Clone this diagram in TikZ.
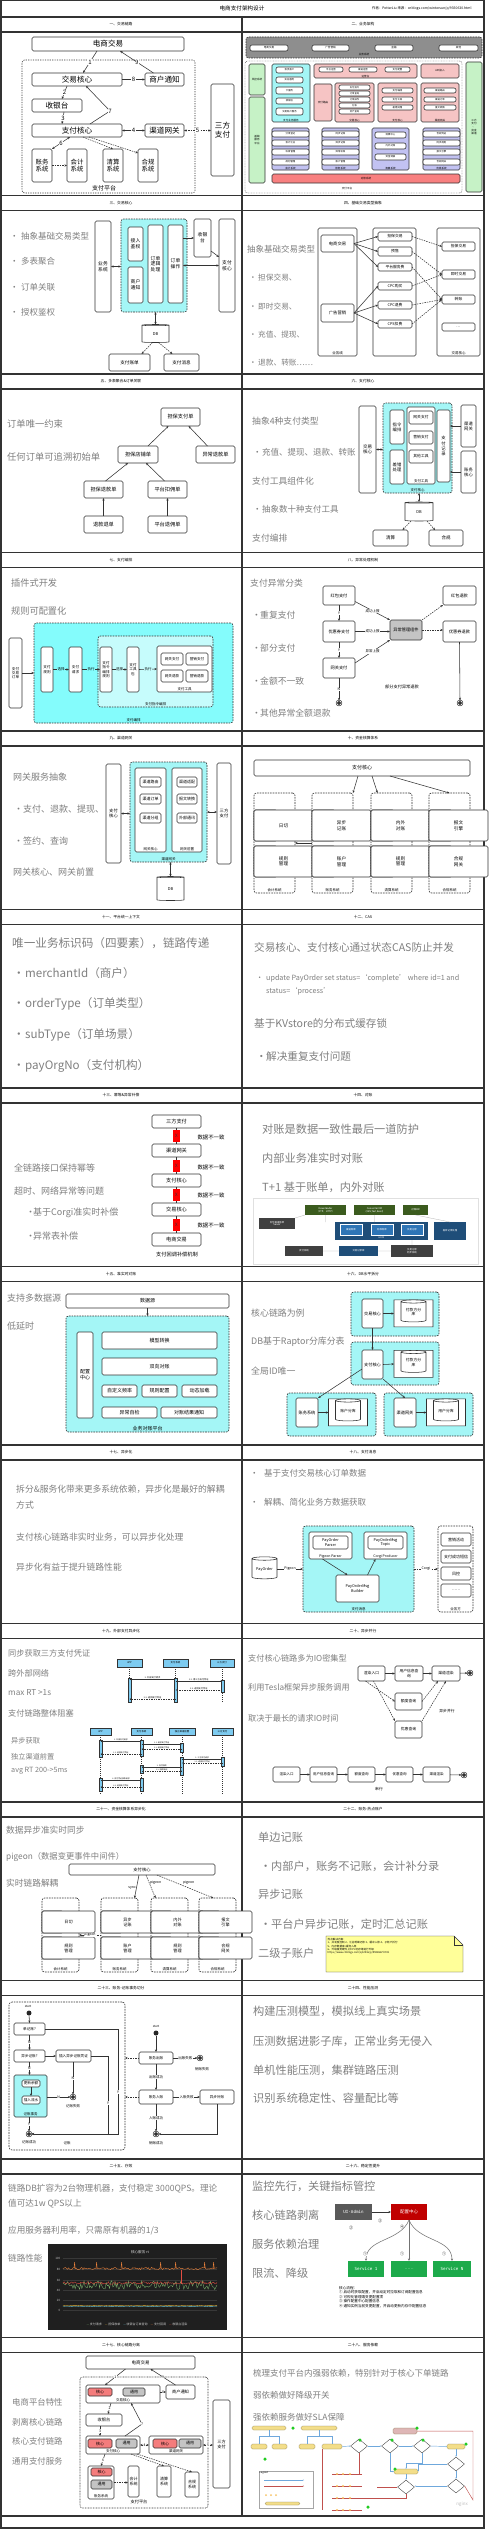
\documentclass[tikz,border=0pt]{standalone}
\usepackage{fontspec}
\setmainfont{Noto Sans CJK SC}
\newfontfamily\mono{DejaVu Sans Mono}
\usetikzlibrary{arrows.meta,positioning,shapes.geometric,calc}
\definecolor{lineg}{HTML}{333333}
\definecolor{txtg}{HTML}{7F7F7F}
\definecolor{cyanf}{HTML}{A4F6F6}
\definecolor{cyanb}{HTML}{84FCFC}
\definecolor{cyanl}{HTML}{C6FCFC}
\definecolor{pinkf}{HTML}{F6C4C4}
\definecolor{purpf}{HTML}{C2C2F2}
\definecolor{greenf}{HTML}{C6F2C6}
\definecolor{redbar}{HTML}{F88080}
\definecolor{darkgr}{HTML}{8E8E8E}
\definecolor{corer}{HTML}{F47C7C}
\definecolor{comg}{HTML}{C4C4C4}
\definecolor{seqb}{HTML}{7DCBF0}
\definecolor{notey}{HTML}{FFFF99}
\definecolor{olivd}{HTML}{3B5B1E}
\definecolor{hdfsb}{HTML}{1F4E79}
\definecolor{hdfsl}{HTML}{2E75B6}
\definecolor{chartbg}{HTML}{1F1F1F}
\definecolor{gfgreen}{HTML}{7EB26D}
\definecolor{gfyel}{HTML}{EAB839}
\definecolor{gfcyan}{HTML}{6ED0E0}
\definecolor{gforange}{HTML}{EF843C}
\definecolor{gfred}{HTML}{E24D42}
\definecolor{cfgred}{HTML}{C00000}
\definecolor{svcg}{HTML}{1DAA4B}
\definecolor{uig}{HTML}{595959}
\definecolor{flowy}{HTML}{F3DE8A}
\definecolor{flowb}{HTML}{6FA8DC}
\definecolor{flowr}{HTML}{C0504D}
\definecolor{flowgn}{HTML}{22CC22}

\newcommand\fsz[1]{\fontsize{#1}{\fpeval{1.2*#1}}\selectfont}
\newcommand\bul[1]{\makebox[#1pt][l]{·}}
% box from its corners: [style]{name}{x1}{y1}{x2}{y2}{text}
\newcommand\bx[7][]{%
  \pgfmathsetmacro\bxw{#5-#3}\pgfmathsetmacro\bxh{#6-#4}%
  \node[box,minimum width=\bxw pt,minimum height=\bxh pt,#1] (#2) at ({(#3+#5)/2},{(#4+#6)/2}) {#7};}

\begin{document}
\begin{tikzpicture}[x=1pt, y=-1pt,
  frame/.style={draw=lineg, line width=1.1pt},
  ttl/.style={font=\fsz{3.8}, inner sep=0},
  box/.style={draw=lineg, line width=0.6pt, rounded corners=1.5pt, fill=white, align=center,
    inner sep=0.3pt, outer sep=0pt, font=\fsz{4}},
  grp/.style={box, dash pattern=on 1.6pt off 1pt, rounded corners=2.5pt},
  lbl/.style={font=\fsz{3.5}, inner sep=0.4pt, align=center},
  inlbl/.style={label={[lbl,anchor=south,inner sep=0.6pt]south:#1}},
  inlbls/.style={label={[lbl,font=\fsz{2.6},anchor=south,inner sep=0.4pt]south:#1}},
  bigt/.style={anchor=west, inner sep=0, text=txtg, font=\fsz{8.5}, align=left},
  arr/.style={draw=lineg, line width=0.55pt, -{Stealth[length=2.6pt,width=2.2pt]}},
  biarr/.style={arr, {Stealth[length=2.6pt,width=2.2pt]}-{Stealth[length=2.6pt,width=2.2pt]}},
  darr/.style={arr, dash pattern=on 1.5pt off 1pt},
  seqm/.style={draw=lineg, line width=0.3pt, -{Stealth[length=1.4pt,width=1.2pt]}},
  seqr/.style={seqm, dash pattern=on 1pt off 0.7pt},
  cyl/.style={cylinder, shape border rotate=90, aspect=0.2, draw=lineg, line width=0.55pt,
    fill=white, align=center, inner sep=0.3pt, outer sep=0pt, font=\fsz{4}},
  endst/.style={circle, draw=black, fill=black!80, double=white, double distance=0.7pt,
    line width=0.5pt, minimum size=4.5pt, inner sep=0},
  initst/.style={circle, fill=black!85, minimum size=5pt, inner sep=0},
  xbox/.style={fill=red, minimum width=7.5pt, minimum height=12pt, inner sep=0, font=\fsz{4.5}},
  pill/.style={box, draw=flowy!55!black, fill=flowy, rounded corners=1.5pt, line width=0.3pt},
  dmd/.style={diamond, draw=lineg, fill=white, line width=0.35pt, minimum width=17pt,
    minimum height=14pt, inner sep=0},
  gdot/.style={circle, fill=flowgn, minimum size=3.5pt, inner sep=0},
  fb/.style={draw=flowb, line width=0.45pt},
  fr/.style={draw=flowr, line width=0.45pt}
]
\useasboundingbox (0,0) rectangle (500,2529);
\pgfmathsetseed{7}

% frame, header and title bars
\draw[frame] (1,0.5) rectangle (484,2528);
\draw[frame] (1,17) -- (484,17);
\foreach \k in {0,...,13}{
  \draw[frame] (1,{32+178.5*\k}) -- (484,{32+178.5*\k});
  \draw[frame] (1,{195.5+178.5*\k}) -- (484,{195.5+178.5*\k});
}
\draw[frame] (242,17) -- (242,2516);
\node[font=\fsz{5.6}] (hdr) at (242,8.5) {电商支付架构设计};
\node[font=\fsz{3.4}, anchor=west, inner sep=0] (src) at (372,8.5) {作者：PetterLiu 来源：cnblogs.com/wintersun/p/9350630.html};
\foreach \k/\lt/\rt in {0/一、交易链路/二、业务架构, 1/三、交易核心/四、基础交易类型抽象,
  2/五、多表聚合\&订单关联/六、支付核心, 3/七、支付编排/八、异常处理机制, 4/九、渠道网关/十、资金核算体系,
  5/十一、平台统一上下文/十二、CAS, 6/十三、幂等\&异常补偿/十四、对账, 7/十五、准实时对账/十六、DB水平拆分,
  8/十七、异步化/十八、支付消息, 9/十九、外部支付异步化/二十、异步并行,
  10/二十一、资金核算体系异步化/二十二、账务-热点账户, 11/二十三、账务-记账事务切分/二十四、性能压测,
  12/二十五、疗效/二十六、稳定性提升, 13/二十七、核心链路分离/二十八、服务依赖}{
  \node[ttl] (tl\k) at (121,{24.5+178.5*\k}) {\lt};
  \node[ttl] (tr\k) at (363,{24.5+178.5*\k}) {\rt};
}

% 一、交易链路
\bx[grp, fill=none, dash pattern=on 1.2pt off 1.2pt]{p1pt}{22}{60}{195}{193}{}
\node[lbl, font=\fsz{6}] (p1ptl) at (104,188) {支付平台};
\bx[font=\fsz{7.6}]{p1ec}{32}{37}{184}{51}{电商交易}
\bx[font=\fsz{7.6}]{p1jy}{32}{73}{122}{86}{交易核心}
\bx[font=\fsz{7.6}]{p1sh}{145}{73}{184}{86}{商户通知}
\bx[font=\fsz{7.6}]{p1sy}{32}{99}{82}{112}{收银台}
\bx[font=\fsz{7.6}]{p1zf}{32}{124}{122}{137}{支付核心}
\bx[font=\fsz{7.6}]{p1qd}{145}{124}{184}{137}{渠道网关}
\bx[font=\fsz{7.6}]{p1sf}{211}{84}{234}{176}{三方\\支付}
\bx[font=\fsz{6.4}]{p1zw}{32}{149}{52}{182}{账务\\系统}
\bx[font=\fsz{6.4}]{p1kj}{67}{149}{87}{182}{会计\\系统}
\bx[font=\fsz{6.4}]{p1qs}{103}{149}{123}{182}{清算\\系统}
\bx[font=\fsz{6.4}]{p1hg}{138}{149}{158}{182}{合规\\系统}
\draw[arr] ([xshift=-11pt]p1ec.south) -- node[lbl, fill=white, font=\fsz{6}]{1} ([xshift=6pt]p1jy.north);
\draw[arr] ([xshift=-11pt]p1sh.north) -- node[lbl, fill=white, font=\fsz{6}]{9} ([xshift=12pt]p1ec.south);
\draw[arr] (p1jy.east) -- node[lbl, fill=white, font=\fsz{6}]{8} (p1sh.west);
\draw[arr] ([xshift=-10pt]p1jy.south) -- node[lbl, fill=white, font=\fsz{6}]{2} ([xshift=5pt]p1sy.north);
\draw[arr] ([xshift=7pt]p1sy.south) -- node[lbl, fill=white, font=\fsz{6}]{3} ([xshift=-15pt]p1zf.north);
\draw[arr] ([xshift=13pt]p1zf.north) -- ++(20,-13) node[lbl, fill=white, font=\fsz{6}]{7} -- ([xshift=9pt]p1jy.south);
\draw[biarr] (p1zf.east) -- node[lbl, fill=white, font=\fsz{6}]{4} (p1qd.west);
\draw[biarr, dash pattern=on 1.5pt off 1pt] (p1qd.east) -- node[lbl, fill=white, font=\fsz{6}]{5} (p1qd.east -| p1sf.west);
\draw[biarr] ([xshift=-7pt]p1zf.south) -- node[lbl, fill=white, font=\fsz{6}]{6} (p1zw.north east);
\draw[darr] (p1zw.east) -- (p1kj.west);
\draw[darr] ([xshift=6pt]p1zf.south) -- (p1qs.north);
\draw[darr] ([xshift=12pt]p1zf.south) -- ([yshift=-4pt]p1hg.north west);

% 二、业务架构
\bx[grp, fill=darkgr]{p2yw}{246}{37}{482}{58}{}
\node[lbl, font=\fsz{2.6}] (p2ywl) at (364,55) {业务系统};
\foreach \i/\xa/\xb/\t in {1/250/288/电商交易, 2/312/349/广告营销, 3/375/413/金融, 4/439/478/其他}
  {\bx[font=\fsz{2.6}, rounded corners=2pt]{p2y\i}{\xa}{45}{\xb}{51}{\t}}
\bx[grp, fill=none, dash pattern=on 0.8pt off 0.8pt, line width=0.4pt]{p2pt}{245}{61}{462}{193}{}
\node[lbl, font=\fsz{2.6}] (p2ptl) at (347,189) {支付平台};
\bx[fill=greenf, font=\fsz{2.6}]{p2fk}{249}{64}{265}{95}{风控系统}
\bx[fill=greenf, font=\fsz{2.6}]{p2jc}{249}{97}{265}{183}{基础\\服务\\平台}
\bx[fill=greenf, font=\fsz{2.6}]{p2qd}{466}{62}{482}{192}{三方\\支付\\、\\资金\\渠道}
\bx[fill=cyanf, inlbls=支付业务服务]{p2cy}{272}{64}{310}{122}{}
\foreach \i/\ya/\yb/\t in {1/67/73/会员账户, 2/77/83/实名服务, 3/87/94/卡服务, 4/98/104/收银台, 5/108/115/交易账户服务}
  {\bx[font=\fsz{2.4}, rounded corners=2pt]{p2c\i}{276}{\ya}{303}{\yb}{\t}}
\bx[fill=pinkf, inlbls=运营台]{p2yy}{314}{64}{417}{78}{}
\foreach \i/\xa/\xb/\t in {1/319/343/平台运营, 2/349/377/渠道运营, 3/385/410/支付配置}
  {\bx[font=\fsz{2.4}, rounded corners=2pt]{p2o\i}{\xa}{67}{\xb}{72}{\t}}
\bx[fill=pinkf, font=\fsz{2.6}]{p2api}{421}{64}{459}{78}{API接入}
\bx[fill=pinkf, font=\fsz{2.6}]{p2lb}{314}{84}{332}{121}{支付路由}
\bx[fill=pinkf, inlbls=交易核心]{p2r2}{335}{83}{374}{122}{}
\foreach \i/\ya/\t in {1/85/支付指令, 2/91/订单查询, 3/97/订单操作, 4/103/分账, 5/109/资产查询}
  {\bx[font=\fsz{2.3}, rounded corners=2pt]{p2rr\i}{339}{\ya}{370}{\ya+5}{\t}}
\bx[fill=pinkf, inlbls=支付核心]{p2r3}{378}{83}{417}{122}{}
\bx[fill=pinkf, inlbls=渠道网关]{p2r4}{421}{83}{459}{122}{}
\foreach \i/\ya/\ta/\tb in {1/88/支付编排/渠道路由, 2/97/支付工具/渠道订单, 3/105/差错处理/报文转换}{
  \bx[font=\fsz{2.4}, rounded corners=2pt]{p2s\i}{382}{\ya}{413}{\ya+5}{\ta}
  \bx[font=\fsz{2.4}, rounded corners=2pt]{p2g\i}{424}{\ya}{456}{\ya+5}{\tb}
}
\foreach \n/\xa/\gl/\ta/\tb/\tc/\td in {a/272/会计系统/分录登记/会计汇总/科目管理/规则管理,
  b/322/账务系统/同步记账/异步记账/异常补账/账户管理, d/423/合规系统/合规凭证/同步规则/报文引擎/合规网关}{
  \bx[fill=purpf, inlbls=\gl]{p2p\n}{\xa}{128}{\xa+37}{170}{}
  \bx[font=\fsz{2.4}, rounded corners=2pt]{p2p\n1}{\xa+3}{131}{\xa+34}{137}{\ta}
  \bx[font=\fsz{2.4}, rounded corners=2pt]{p2p\n2}{\xa+3}{140}{\xa+34}{146}{\tb}
  \bx[font=\fsz{2.4}, rounded corners=2pt]{p2p\n3}{\xa+3}{149}{\xa+34}{155}{\tc}
  \bx[font=\fsz{2.4}, rounded corners=2pt]{p2p\n4}{\xa+3}{159}{\xa+34}{165}{\td}
}
\bx[fill=purpf, inlbls=清算系统]{p2pc}{372}{128}{409}{170}{}
\foreach \i/\ya/\t in {1/132/清算中心, 2/143/内外对账, 3/154/资金调拨}
  {\bx[font=\fsz{2.4}, rounded corners=2pt]{p2pc\i}{375}{\ya}{406}{\ya+6}{\t}}
\bx[fill=redbar, font=\fsz{2.6}]{p2dz}{272}{174}{460}{183}{对账系统}

% 三、交易核心
\node[bigt] (p3t1) at (10,236) {\bul{11}抽象基础交易类型};
\node[bigt] (p3t2) at (10,261) {\bul{11}多表聚合};
\node[bigt] (p3t3) at (10,287) {\bul{11}订单关联};
\node[bigt] (p3t4) at (10,312) {\bul{11}授权鉴权};
\bx[font=\fsz{4.8}]{p3yw}{95}{221}{111}{312}{业务\\系统}
\bx[grp, fill=cyanf]{p3rg}{121}{219}{187}{312}{}
\bx[font=\fsz{4.8}]{p3jr}{128}{227}{143}{261}{接入\\鉴权}
\bx[font=\fsz{4.8}]{p3tz}{128}{267}{143}{303}{商户\\通知}
\bx[font=\fsz{4.8}]{p3dd}{148}{225}{163}{303}{订单\\逻辑\\处理}
\bx[font=\fsz{4.8}]{p3cz}{168}{225}{183}{303}{订单\\操作}
\bx[font=\fsz{4.8}]{p3sy}{194}{219}{211}{257}{收银\\台}
\bx[font=\fsz{4.8}]{p3zf}{219}{219}{235}{312}{支付\\核心}
\node[cyl, minimum width=27pt, minimum height=18pt] (p3db) at (155.5,334) {DB};
\bx[font=\fsz{4.6}]{p3zd}{109}{354}{150}{371}{支付账单}
\bx[font=\fsz{4.6}]{p3xx}{164}{354}{199}{371}{支付消息}
\draw[biarr] (p3yw.east) -- (p3yw.east -| p3rg.west);
\draw[arr] (p3cz.east |- p3sy.west) -- (p3sy.west);
\draw[arr] ([yshift=6pt]p3sy.south east) -- ([yshift=-38pt]p3zf.north west);
\draw[biarr] (p3cz.east |- p3zf.west) -- (p3zf.west);
\draw[biarr] (p3db.north |- p3rg.south) -- (p3db.north);
\draw[darr] ([xshift=-3pt]p3db.south) -- ([xshift=12pt]p3zd.north);
\draw[darr] ([xshift=3pt]p3db.south) -- ([xshift=-9pt]p3xx.north);

% 四、基础交易类型抽象
\node[bigt] (p4t0) at (247,249) {抽象基础交易类型};
\node[bigt, font=\fsz{7.7}] (p4t1) at (249,278) {\bul{9}担保交易、};
\node[bigt, font=\fsz{7.7}] (p4t2) at (249,307) {\bul{9}即时交易、};
\node[bigt, font=\fsz{7.7}] (p4t3) at (249,335) {\bul{9}充值、提现、};
\node[bigt, font=\fsz{7.7}] (p4t4) at (249,363) {\bul{9}退款、转账……};
\bx[inlbl=业务线]{p4yx}{318}{228}{357}{356}{}
\bx{p4zj}{373}{228}{416}{356}{}
\bx[inlbl=交易核心]{p4jh}{437}{228}{480}{356}{}
\bx[font=\fsz{4.3}]{p4ec}{321}{235}{354}{252}{电商交易}
\bx[font=\fsz{4.3}]{p4gg}{321}{304}{354}{322}{广告营销}
\foreach \i/\ya/\yb/\t in {1/232/241/担保交易, 2/247/256/预售, 3/263/271/平台服务费, 4/282/290/CPC购买, 5/301/309/CPC退费, 6/320/328/CPS扣费}
  {\bx[font=\fsz{3.8}]{p4a\i}{378}{\ya}{412}{\yb}{\t}}
\foreach \i/\ya/\yb/\t in {1/242/251/担保交易, 2/270/279/即时交易, 3/295/304/转账, 4/323/331/…}
  {\bx[font=\fsz{3.8}]{p4b\i}{442}{\ya}{475}{\yb}{\t}}
\foreach \i in {1,2,3} {\draw[arr] (p4ec.east) -- (p4a\i.west);}
\foreach \i in {4,5,6} {\draw[arr] (p4gg.east) -- (p4a\i.west);}
\foreach \a/\b in {1/1, 2/2, 3/3, 4/2, 5/3, 6/3} {\draw[darr] (p4a\a.east) -- (p4b\b.west);}

% 五、多表聚合&订单关联
\node[bigt, font=\fsz{9.3}] (p5t1) at (7,424) {订单唯一约束};
\node[bigt, font=\fsz{9.3}] (p5t2) at (7,457) {任何订单可追溯初始单};
\bx[font=\fsz{5.2}]{p5db}{161}{408}{200}{426}{担保支付单}
\bx[font=\fsz{5.2}]{p5dp}{118}{446}{158}{463}{担保店铺单}
\bx[font=\fsz{5.2}]{p5yc}{196}{446}{235}{463}{异常退款单}
\bx[font=\fsz{5.2}]{p5dt}{84}{481}{123}{498}{担保退款单}
\bx[font=\fsz{5.2}]{p5pk}{148}{481}{187}{498}{平台扣佣单}
\bx[font=\fsz{5.2}]{p5tt}{84}{516}{123}{533}{退款退单}
\bx[font=\fsz{5.2}]{p5pt}{148}{516}{187}{533}{平台退佣单}
\draw[arr] ([xshift=10pt]p5dp.north) -- ([xshift=-12pt]p5db.south);
\draw[arr] ([xshift=-8pt]p5yc.north) -- ([xshift=8pt]p5db.south);
\draw[arr] ([xshift=2pt]p5dt.north) -- ([xshift=-10pt]p5dp.south);
\draw[arr] ([xshift=-3pt]p5pk.north) -- ([xshift=8pt]p5dp.south);
\draw[arr] (p5tt.north) -- (p5dt.south);
\draw[arr] (p5pt.north) -- (p5pk.south);

% 六、支付核心
\node[bigt, font=\fsz{8.8}] (p6t1) at (252,421) {抽象4种支付类型};
\node[bigt] (p6t2) at (253,452) {\bul{9}充值、提现、退款、转账};
\node[bigt, font=\fsz{8.8}] (p6t3) at (252,481) {支付工具组件化};
\node[bigt] (p6t4) at (253,509) {\bul{9}抽象数十种支付工具};
\node[bigt, font=\fsz{8.8}] (p6t5) at (252,538) {支付编排};
\bx[font=\fsz{4.5}]{p6jy}{359}{406}{376}{493}{交易\\核心}
\bx[grp, fill=cyanf, inlbl=支付核心]{p6rg}{383}{403}{452}{493}{}
\bx[font=\fsz{4.3}]{p6zl}{390}{410}{404}{444}{指令\\编排}
\bx[font=\fsz{4.3}]{p6cc}{390}{450}{404}{484}{差错\\处理}
\bx[inlbl=支付工具]{p6gj}{407}{407}{435}{484}{}
\bx[font=\fsz{3.8}]{p6w1}{409}{411}{433}{424}{网关支付}
\bx[font=\fsz{3.8}]{p6w2}{409}{431}{433}{444}{营销支付}
\bx[font=\fsz{3.8}]{p6w3}{409}{450}{433}{463}{其他工具}
\bx[font=\fsz{4.3}]{p6jl}{437}{410}{450}{482}{支\\付\\记\\录}
\bx[font=\fsz{4.3}]{p6qd}{461}{405}{476}{447}{渠道\\网关}
\bx[font=\fsz{4.3}]{p6zw}{461}{451}{476}{493}{账务\\核心}
\node[cyl, minimum width=28pt, minimum height=19pt] (p6db) at (419,512) {DB};
\bx[font=\fsz{4.5}]{p6qs}{373}{530}{408}{546}{清算}
\bx[font=\fsz{4.5}]{p6hg}{429}{530}{463}{546}{合规}
\draw[biarr] (p6jy.east) -- (p6jy.east -| p6rg.west);
\draw[arr] (p6qd.west) -- (p6qd.west -| p6jl.east);
\draw[arr] (p6zw.west) -- (p6zw.west -| p6jl.east);
\draw[biarr] (p6db.north |- p6rg.south) -- (p6db.north);
\draw[darr] ([xshift=-8pt]p6db.south) -- ([xshift=12pt]p6qs.north);
\draw[darr] ([xshift=8pt]p6db.south) -- ([xshift=-11pt]p6hg.north);

% 七、支付编排
\node[bigt, font=\fsz{9.2}] (p7t1) at (11,583) {插件式开发};
\node[bigt, font=\fsz{9.2}] (p7t2) at (11,611) {规则可配置化};
\bx[grp, fill=cyanb, inlbl=支付编排]{p7rg}{34}{623}{233}{723}{}
\bx[grp, fill=cyanl, inlbl=支付指令编排]{p7zl}{98}{636}{213}{707}{}
\bx[font=\fsz{3.6}]{p7dd}{9}{638}{22}{708}{支付\\交易\\订单}
\bx[font=\fsz{3.6}]{p7gz}{41}{647}{53}{692}{支付\\规则}
\bx[font=\fsz{3.6}]{p7qq}{69}{647}{82}{692}{支付\\请求}
\bx[font=\fsz{3.6}]{p7bp}{100}{647}{112}{692}{支付\\指令\\编排\\规则}
\bx[font=\fsz{3.6}]{p7gb}{127}{647}{139}{692}{支付\\工具\\包}
\bx[inlbl=支付工具]{p7gj}{157}{646}{212}{692}{}
\bx[font=\fsz{3.6}]{p7w1}{161}{653}{183}{665}{网关支付}
\bx[font=\fsz{3.6}]{p7w2}{186}{653}{208}{665}{营销支付}
\bx[font=\fsz{3.6}]{p7w3}{161}{670}{183}{682}{网关退款}
\bx[font=\fsz{3.6}]{p7w4}{186}{670}{208}{682}{营销退款}
\draw[arr] (p7dd.east) -- (p7dd.east -| p7rg.west);
\draw[arr] (p7gz.east) -- node[lbl, fill=cyanb]{选择} (p7qq.west);
\draw[arr] (p7qq.east) -- node[lbl, fill=cyanb]{执行} (p7bp.west);
\draw[arr] (p7bp.east) -- node[lbl, fill=cyanl]{选择} (p7gb.west);
\draw[arr] (p7gb.east) -- node[lbl, fill=cyanl]{执行} (p7gj.west);

% 八、异常处理机制
\node[bigt, font=\fsz{8.8}] (p8t0) at (250,583) {支付异常分类};
\node[bigt, font=\fsz{8.8}] (p8t1) at (252,615) {\bul{8}重复支付};
\node[bigt, font=\fsz{8.8}] (p8t2) at (252,648) {\bul{8}部分支付};
\node[bigt, font=\fsz{8.8}] (p8t3) at (252,681) {\bul{8}金额不一致};
\node[bigt, font=\fsz{8.8}] (p8t4) at (252,713) {\bul{8}其他异常全额退款};
\bx[font=\fsz{4.2}]{p8hb}{323}{586}{355}{605}{红包支付}
\bx[font=\fsz{4.2}]{p8yh}{323}{621}{355}{642}{优惠券支付}
\bx[font=\fsz{4.2}]{p8wg}{323}{658}{355}{678}{网关支付}
\bx[font=\fsz{4.2}, fill=comg]{p8yc}{390}{620}{422}{640}{异常管理组件}
\bx[font=\fsz{4.2}]{p8ht}{443}{586}{476}{605}{红包退款}
\bx[font=\fsz{4.2}]{p8yt}{443}{621}{476}{642}{优惠券退款}
\node[endst] (p8e1) at (339,703) {};
\node[endst] (p8e2) at (460,703) {};
\draw[arr] (p8hb.south) -- node[lbl, fill=white]{Y} (p8yh.north);
\draw[arr] (p8yh.south) -- node[lbl, fill=white]{Y} (p8wg.north);
\draw[arr] (p8wg.south) -- node[lbl, fill=white]{N} (p8e1.north);
\draw[arr] ([yshift=-6pt]p8hb.east) -- node[lbl, fill=white]{成功上报} (p8yc.north west);
\draw[arr] (p8yh.east) -- node[lbl, fill=white]{成功上报} (p8yh.east -| p8yc.west);
\draw[arr] ([yshift=5pt]p8wg.east) -- node[lbl, fill=white]{异常上报} (p8yc.south west);
\draw[darr] (p8yc.north east) -- (p8ht.south west);
\draw[darr] (p8yc.east) -- (p8yc.east -| p8yt.west);
\draw[arr] (p8yt.south) -- (p8e2.north);
\node[lbl, font=\fsz{4.2}] (p8cap) at (402,687) {部分支付异常退款};

% 九、渠道网关
\node[bigt, font=\fsz{9}] (p9t0) at (13,777) {网关服务抽象};
\node[bigt, font=\fsz{9}] (p9t1) at (14,809) {\bul{9}支付、退款、提现、};
\node[bigt, font=\fsz{9}] (p9t2) at (14,841) {\bul{9}签约、查询};
\node[bigt, font=\fsz{9}] (p9t3) at (13,872) {网关核心、网关前置};
\bx[font=\fsz{4.3}]{p9zf}{106}{764}{121}{863}{支付\\核心}
\bx[grp, fill=cyanf, inlbl=渠道网关]{p9rg}{130}{762}{207}{862}{}
\bx[inlbl=网关核心]{p9hx}{135}{768}{166}{852}{}
\bx[inlbl=网关前置]{p9qz}{172}{768}{202}{852}{}
\foreach \i/\ya/\ta/\tb in {1/777/渠道路由/渠道适配, 2/794/渠道订单/报文转换, 3/813/渠道分组/外部通讯}{
  \bx[font=\fsz{4}]{p9a\i}{140}{\ya}{161}{\ya+10}{\ta}
  \bx[font=\fsz{4}]{p9b\i}{177}{\ya}{197}{\ya+10}{\tb}
}
\bx[font=\fsz{4.3}]{p9sf}{217}{763}{231}{864}{三方\\支付}
\node[cyl, minimum width=27pt, minimum height=24pt] (p9db) at (170.5,889) {DB};
\draw[biarr] (p9zf.east) -- (p9zf.east -| p9rg.west);
\draw[biarr] (p9rg.east) -- (p9rg.east -| p9sf.west);
\draw[biarr] (p9db.north |- p9rg.south) -- (p9db.north);

% 十、资金核算体系
\bx[font=\fsz{5}]{p10zf}{254}{760}{470}{776}{支付核心}
\foreach \n/\gx/\gl/\ta/\tb/\tc/\td in {kj/254/会计系统/分录\\登记/日切/科目\\管理/规则\\管理,
  zw/312/账务系统/同步\\记账/异步\\记账/异常\\补账/账户\\管理, qs/371/清算系统/清算\\中心/内外\\对账/资金\\调拨/规则\\管理,
  hg/429/合规系统/同步\\规则/报文\\引擎/合规\\凭证/合规\\网关}{
  \bx[grp, fill=none, inlbl=\gl]{p10\n}{\gx}{793}{\gx+41}{893}{}
  \bx[font=\fsz{4.6}]{p10\n1}{\gx+5}{810}{\gx+18}{841}{\ta}
  \bx[font=\fsz{4.6}]{p10\n2}{\gx+23}{810}{\gx+36}{841}{\tb}
  \bx[font=\fsz{4.6}]{p10\n3}{\gx+5}{846}{\gx+18}{877}{\tc}
  \bx[font=\fsz{4.6}]{p10\n4}{\gx+23}{846}{\gx+36}{877}{\td}
}
\draw[arr] ([xshift=-4pt]p10zf.south) -- (p10zw.north east);
\draw[arr] ([xshift=10pt]p10zf.south) -- ([xshift=-14pt]p10qs.north);
\draw[arr] ([xshift=28pt]p10zf.south) -- (p10hg.north);
\draw[arr] (p10zw.west) -- (p10kj.east);

% 十一、平台统一上下文
\node[bigt, font=\fsz{11.6}] (p11t0) at (12,943) {唯一业务标识码（四要素），链路传递};
\node[bigt, font=\fsz{11.6}] (p11t1) at (13,973) {\bul{12}merchantId（商户）};
\node[bigt, font=\fsz{11.6}] (p11t2) at (13,1004) {\bul{12}orderType（订单类型）};
\node[bigt, font=\fsz{11.6}] (p11t3) at (13,1035) {\bul{12}subType（订单场景）};
\node[bigt, font=\fsz{11.6}] (p11t4) at (13,1066) {\bul{12}payOrgNo（支付机构）};

% 十二、CAS
\node[bigt, font=\fsz{10.6}] (p12t0) at (254,947) {交易核心、支付核心通过状态CAS防止并发};
\node[bigt, font=\fontsize{7.2}{13}\selectfont] (p12t1) at (256,984.5) {\bul{10}update PayOrder set status=‘complete’ where id=1 and\\\hspace*{10pt}status=‘process’};
\node[bigt, font=\fsz{10.6}] (p12t2) at (254,1023) {基于KVstore的分布式缓存锁};
\node[bigt, font=\fsz{10.6}] (p12t3) at (256,1056) {\bul{10}解决重复支付问题};

% 十三、幂等&异常补偿
\node[bigt, font=\fsz{9}] (p13t0) at (14,1168) {全链路接口保持幂等};
\node[bigt, font=\fsz{9}] (p13t1) at (14,1191) {超时、网络异常等问题};
\node[bigt, font=\fsz{9}] (p13t2) at (26,1213) {\bul{7}基于Corgi准实时补偿};
\node[bigt, font=\fsz{9}] (p13t3) at (26,1236) {\bul{7}异常表补偿};
\bx[font=\fsz{5.2}]{p13sf}{152}{1115}{201}{1128}{三方支付}
\bx[font=\fsz{5.2}]{p13qd}{152}{1144}{201}{1157}{渠道网关}
\bx[font=\fsz{5.2}]{p13zf}{152}{1174}{201}{1187}{支付核心}
\bx[font=\fsz{5.2}]{p13jy}{152}{1203}{201}{1216}{交易核心}
\bx[font=\fsz{5.2}]{p13ec}{152}{1233}{201}{1246}{电商交易}
\foreach \a/\b/\i/\yy in {sf/qd/1/1137, qd/zf/2/1167, zf/jy/3/1195, jy/ec/4/1225}{
  \draw[lineg, line width=0.6pt] (p13\a.south) -- node[xbox] (p13x\i) {X} (p13\b.north);
  \node[lbl, font=\fsz{5.4}] (p13n\i) at (211,\yy) {数据不一致};
}
\node[lbl, font=\fsz{5.2}] (p13cap) at (177,1255) {支付回调补偿机制};

% 十四、对账
\node[bigt, font=\fsz{11.2}] (p14t0) at (262,1129) {对账是数据一致性最后一道防护};
\node[bigt, font=\fsz{11.2}] (p14t1) at (262,1158) {内部业务准实时对账};
\node[bigt, font=\fsz{11.2}] (p14t2) at (262,1187) {T+1 基于账单，内外对账};
\bx[draw=black!12, rounded corners=0, line width=0.4pt]{p14fr}{253}{1198}{478}{1264}{}
\bx[fill=olivd, draw=none, rounded corners=0, text=white, font=\fsz{2.4}]{p14dl}{305}{1205}{346}{1215}{Downloader\\（FTP，HTTP）}
\bx[fill=olivd, draw=none, rounded corners=0, text=white, font=\fsz{2.4}]{p14cv}{354}{1205}{395}{1215}{Converter MR\\(XML,Text,Excel)}
\bx[fill=olivd, draw=none, rounded corners=0, text=white, font=\fsz{2.4}]{p14mr}{403}{1205}{428}{1215}{对账MR}
\bx[fill=black!75, draw=none, rounded corners=0, text=white, font=\fsz{2.4}]{p14sv}{259}{1218}{295}{1229}{支付渠道账单\\Server}
\bx[fill=hdfsb, draw=none, rounded corners=0]{p14hd}{335}{1222}{428}{1240}{}
\node[lbl, font=\fsz{2.2}, text=white] (p14hdl) at (381.5,1238) {HDFS};
\foreach \i/\xa/\t in {1/340/渠道账单, 2/371/标准账单, 3/401/交易记录}
  {\bx[fill=hdfsl, draw=white, line width=0.3pt, rounded corners=0, text=white, font=\fsz{2.4}]{p14h\i}{\xa}{1224}{\xa+22}{1235}{\t}}
\bx[fill=hdfsb, draw=none, rounded corners=0, text=white, font=\fsz{2.4}]{p14cy}{434}{1222}{466}{1240}{差异记录处理}
\bx[fill=black!75, draw=none, rounded corners=0, text=white, font=\fsz{2.4}]{p14ps}{285}{1246}{323}{1256}{支付系统}
\bx[fill=hdfsb, draw=none, rounded corners=0, text=white, font=\fsz{2.4}]{p14jl}{339}{1246}{378}{1256}{交易记录库}
\bx[fill=black!75, draw=none, rounded corners=0, text=white, font=\fsz{2.4}]{p14tb}{391}{1245}{433}{1257}{交易记录\\同步系统}
\draw[black!30, line width=0.3pt] (p14sv.north east) -- (p14dl.south west) (p14dl.south) -- (p14hd.north -| p14dl.south)
  (p14cv.south) -- (p14hd.north -| p14cv.south) (p14mr.south) -- (p14cy.north) (p14ps.east) -- (p14jl.west)
  (p14jl.east) -- (p14tb.west) (p14tb.north) -- (p14hd.south -| p14tb.north);

% 十五、准实时对账
\node[bigt, font=\fsz{9}] (p15t0) at (7,1298) {支持多数据源};
\node[bigt, font=\fsz{9}] (p15t1) at (7,1326) {低延时};
\bx[font=\fsz{5}]{p15ds}{66}{1294}{229}{1308}{数据源}
\bx[grp, fill=cyanf, font=\fsz{5}, label={[lbl, font=\fsz{5}, anchor=south, inner sep=1pt]south:业务对账平台}]{p15rg}{66}{1316}{229}{1432}{}
\bx[font=\fsz{5}]{p15pz}{77}{1332}{93}{1418}{配置\\中心}
\bx[font=\fsz{5}]{p15mx}{102}{1332}{217}{1349}{模型转换}
\bx[font=\fsz{5}]{p15sx}{102}{1358}{217}{1375}{双向对账}
\bx[font=\fsz{5}]{p15zd}{102}{1385}{137}{1397}{自定义频率}
\bx[font=\fsz{5}]{p15gz}{142}{1385}{177}{1397}{规则配置}
\bx[font=\fsz{5}]{p15dt}{182}{1385}{217}{1397}{动态加载}
\bx[font=\fsz{5}]{p15yc}{102}{1407}{157}{1418}{异常自检}
\bx[font=\fsz{5}]{p15tz}{161}{1407}{217}{1418}{对账结果通知}
\draw[arr] (p15ds.south) -- (p15rg.north);

% 十六、DB水平拆分
\node[bigt, font=\fsz{8.9}] (p16t0) at (251,1313) {核心链路为例};
\node[bigt, font=\fsz{8.9}] (p16t1) at (251,1342) {DB基于Raptor分库分表};
\node[bigt, font=\fsz{8.9}] (p16t2) at (251,1371) {全局ID唯一};
\bx[grp, fill=cyanf]{p16g1}{351}{1292}{439}{1336}{}
\bx[grp, fill=cyanf]{p16g2}{351}{1342}{439}{1385}{}
\bx[grp, fill=cyanf]{p16g3}{287}{1393}{376}{1436}{}
\bx[grp, fill=cyanf]{p16g4}{384}{1393}{473}{1436}{}
\bx[font=\fsz{4.2}]{p16jy}{362}{1299}{383}{1328}{交易核心}
\bx[font=\fsz{4.2}]{p16zf}{362}{1350}{383}{1379}{支付核心}
\bx[font=\fsz{4.2}]{p16zw}{296}{1398}{318}{1427}{账务系统}
\bx[font=\fsz{4.2}]{p16qd}{394}{1398}{416}{1427}{渠道网关}
\foreach \i/\cx/\cy/\t in {1/413.5/1313.5/付款方分\\库, 2/413.5/1364/付款方分\\库, 3/348/1412.5/账户分库, 4/446/1412.5/用户分库}{
  \node[cyl, minimum width=39pt, minimum height=27pt] (p16d\i) at (\cx,\cy) {};
  \node[cyl, minimum width=25pt, minimum height=22pt, font=\fsz{3.8}] (p16e\i) at (\cx,\cy-1.5) {\t};
}
\draw[arr] (p16jy.east) -- (p16d1.west);
\draw[arr] (p16jy.south) -- (p16zf.north);
\draw[arr] (p16zf.east) -- (p16d2.west);
\draw[arr] ([yshift=10pt]p16zf.south west) -- (p16zw.north east);
\draw[arr] (p16zf.south east) -- (p16qd.north);
\draw[arr] (p16zw.east) -- (p16d3.west);
\draw[arr] (p16qd.east) -- (p16d4.west);

% 十七、异步化
\node[bigt, font=\fontsize{8.8}{16}\selectfont] (p17t0) at (16,1497) {拆分\&服务化带来更多系统依赖，异步化是最好的解耦\\方式};
\node[bigt, font=\fsz{8.8}] (p17t1) at (16,1537) {支付核心链路非实时业务，可以异步化处理};
\node[bigt, font=\fsz{8.8}] (p17t2) at (16,1567) {异步化有益于提升链路性能};

% 十八、支付消息
\node[bigt, font=\fsz{8.5}] (p18t0) at (250,1473) {\bul{14}基于支付交易核心订单数据};
\node[bigt, font=\fsz{8.5}] (p18t1) at (250,1502) {\bul{14}解耦、简化业务方数据获取};
\node[cyl, minimum width=25pt, minimum height=22pt, font=\fsz{3.8}] (p18po) at (264.5,1569) {PayOrder};
\bx[grp, fill=cyanf, inlbl=支付消息]{p18rg}{303}{1526}{414}{1612}{}
\bx[inlbl=Pigeon Parser]{p18pp}{309}{1532}{352}{1559}{}
\bx[font=\fsz{3.8}]{p18pi}{313}{1536}{348}{1549}{PayOrder\\Parser}
\bx[inlbl=Corgi Producer]{p18cp}{364}{1532}{407}{1559}{}
\bx[font=\fsz{3.8}]{p18ci}{368}{1536}{403}{1549}{PayOrderMsg\\Topic}
\bx[font=\fsz{3.8}]{p18bd}{336}{1575}{379}{1602}{PayOrderMsg\\Builder}
\bx[grp, fill=none, inlbl=业务方]{p18yw}{438}{1526}{473}{1612}{}
\foreach \i/\ya/\t in {1/1533/营销活动, 2/1550/支付成功短信, 3/1567/风控, 4/1584/……}
  {\bx[font=\fsz{4}]{p18y\i}{441}{\ya}{471}{\ya+13}{\t}}
\draw[arr] (p18po.east) -- node[lbl, fill=white]{Pigeon} (p18po.east -| p18rg.west);
\draw[arr] ([xshift=-8pt]p18pp.south) -- ([xshift=-10pt]p18bd.north);
\draw[arr] ([xshift=10pt]p18bd.north) -- ([xshift=-10pt]p18cp.south);
\draw[darr] (p18po.east -| p18rg.east) -- node[lbl, fill=white]{Corgi} (p18po.east -| p18yw.west);

% 十九、外部支付异步化
\node[bigt, font=\fsz{8.2}] (p19t0) at (8,1653) {同步获取三方支付凭证};
\node[bigt, font=\fsz{8.2}] (p19t1) at (8,1673) {跨外部网络};
\node[bigt, font=\fsz{8.2}] (p19t2) at (8,1693) {max RT >1s};
\node[bigt, font=\fsz{8.2}] (p19t3) at (8,1713) {支付链路整体阻塞};
\node[bigt, font=\fsz{7.2}] (p19t4) at (11,1741) {异步获取};
\node[bigt, font=\fsz{7.2}] (p19t5) at (11,1757) {独立渠道前置};
\node[bigt, font=\fsz{7.2}] (p19t6) at (11,1771) {avg RT 200->5ms};
\foreach \i/\xa/\xb/\t in {1/117/142/APP, 2/163/188/支付系统, 3/210/234/三方支付}{
  \bx[fill=seqb, rounded corners=0, line width=0.3pt, font=\fsz{2.4}]{p19a\i}{\xa}{1659}{\xb}{1667}{\t}
  \draw[lineg, line width=0.3pt, dash pattern=on 1pt off 1pt] (p19a\i.south) -- ++(0,36);
}
\bx[fill=seqb, rounded corners=0, line width=0.3pt]{p19c1}{128.5}{1678}{131.5}{1702}{}
\bx[fill=seqb, rounded corners=0, line width=0.3pt]{p19c2}{174}{1678}{177}{1702}{}
\bx[fill=seqb, rounded corners=0, line width=0.3pt]{p19c3}{221}{1680}{224}{1692}{}
\draw[seqm] ([yshift=-12pt]p19a1.south) -- node[above=-0.3pt, font=\fsz{2.2}, inner sep=0.3pt]{1. 外部支付请求} ([yshift=-12pt]p19a2.south);
\draw[seqm] ([yshift=-14pt]p19a2.south) -- node[above=-0.3pt, font=\fsz{2.2}, inner sep=0.3pt]{1.1. 请三方支付凭证} ([yshift=-14pt]p19a3.south);
\draw[seqr] ([yshift=-23pt]p19a3.south) -- node[above=-0.3pt, font=\fsz{2.2}, inner sep=0.3pt]{1.2. 返回支付凭证} ([yshift=-23pt]p19a2.south);
\draw[seqr] ([yshift=-32pt]p19a2.south) -- node[above=-0.3pt, font=\fsz{2.2}, inner sep=0.3pt]{1.3. 返回支付凭证} ([yshift=-32pt]p19a1.south);
\foreach \i/\xa/\xb/\t in {1/90/111/APP, 2/131/152/支付系统, 3/169/195/独立渠道前置, 4/212/233/三方支付}{
  \bx[fill=seqb, rounded corners=0, line width=0.3pt, font=\fsz{2.4}]{p19b\i}{\xa}{1728}{\xb}{1735}{\t}
  \draw[lineg, line width=0.3pt, dash pattern=on 1pt off 1pt] (p19b\i.south) -- ++(0,60);
}
\foreach \i/\xa/\ya/\yb in {1/99/1740/1757, 2/140/1740/1756, 3/180.5/1743/1752, 4/221/1757/1766, 5/99/1778/1791, 6/140/1765/1773, 7/140/1778/1791, 8/180.5/1757/1775}
  {\bx[fill=seqb, rounded corners=0, line width=0.3pt]{p19d\i}{\xa}{\ya}{\xa+3}{\yb}{}}
\foreach \s/\a/\b/\d/\t in {seqm/1/2/6/1. 外部支付请求, seqm/2/3/9/1.1. 请求支付凭证, seqr/3/2/14/1.2. 返回支付凭证,
  seqr/2/1/19/1.3. 返回支付凭证, seqm/3/4/24/2. 三方支付请求, seqr/4/3/28/2.1. 返回支付凭证, seqm/3/2/32/3. 支付回调,
  seqr/2/3/36/3.1. 回调响应, seqm/1/2/45/4. 支付凭证获取请求, seqr/2/1/52/4.1. 返回支付凭证}
  {\draw[\s] ([yshift=-\d pt]p19b\a.south) -- node[above=-0.3pt, font=\fsz{1.9}, inner sep=0.2pt]{\t} ([yshift=-\d pt]p19b\b.south);}

% 二十、异步并行
\node[bigt, font=\fsz{8.2}] (p20t0) at (248,1658) {支付核心链路多为IO密集型};
\node[bigt, font=\fsz{8.2}] (p20t1) at (248,1687) {利用Tesla框架异步服务调用};
\node[bigt, font=\fsz{8.2}] (p20t2) at (248,1718) {取决于最长的请求IO时间};
\bx[font=\fsz{3.8}]{p20a1}{358}{1666}{385}{1681}{渲染入口}
\bx[font=\fsz{3.8}]{p20a2}{395}{1666}{423}{1681}{用户信息查\\询}
\bx[font=\fsz{3.8}]{p20a3}{432}{1666}{460}{1681}{渠道渲染}
\bx[font=\fsz{3.8}]{p20a4}{395}{1693}{422}{1710}{额度查询}
\bx[font=\fsz{3.8}]{p20a5}{395}{1721}{422}{1738}{优惠查询}
\node[endst] (p20ae) at (470,1673) {};
\draw[arr] (p20a1) -- (p20a2);
\draw[arr] (p20a2) -- (p20a3);
\draw[arr] (p20a3) -- (p20ae);
\draw[darr] ([xshift=-6pt]p20a1.south) -- (p20a4.west);
\draw[darr] ([xshift=2pt]p20a1.south) -- (p20a5.north west);
\draw[darr] (p20a4.east) -- ([xshift=-8pt]p20a3.south);
\draw[darr] (p20a5.north east) -- ([xshift=0pt]p20a3.south);
\node[lbl, font=\fsz{3.8}] (p20bx) at (447,1711) {异步并行};
\foreach \i/\xa/\t in {1/273/渲染入口, 2/310/用户信息查询, 3/348/额度查询, 4/386/优惠查询, 5/423/渠道渲染}
  {\bx[font=\fsz{3.5}]{p20s\i}{\xa}{1767}{\xa+27}{1782}{\t}}
\node[endst] (p20se) at (464,1775) {};
\foreach \a/\b in {1/2, 2/3, 3/4, 4/5} {\draw[arr] (p20s\a) -- (p20s\b);}
\draw[arr] (p20s5) -- (p20se);
\node[lbl, font=\fsz{3.8}] (p20cx) at (379,1789) {串行};

% 二十一、资金核算体系异步化
\node[bigt, font=\fsz{8.7}] (p21t0) at (6,1830) {数据异步准实时同步};
\node[bigt, font=\fsz{8.3}] (p21t1) at (6,1857) {pigeon（数据变更事件中间件）};
\node[bigt, font=\fsz{8.7}] (p21t2) at (6,1883) {实时链路解耦};
\bx[font=\fsz{4.3}]{p21zf}{69}{1864}{215}{1875}{支付核心}
\foreach \n/\gx/\gl/\ta/\tb/\tc/\td in {kj/42/会计系统/分录\\登记/日切/科目\\管理/规则\\管理,
  zw/101/账务系统/同步\\记账/异步\\记账/异常\\补账/账户\\管理, qs/151/清算系统/清算\\中心/内外\\对账/资金\\调拨/规则\\管理,
  hg/199/合规系统/同步\\规则/报文\\引擎/合规\\凭证/合规\\网关}{
  \bx[grp, fill=none, inlbl=\gl]{p21\n}{\gx}{1898}{\gx+37}{1972}{}
  \bx[font=\fsz{4.1}]{p21\n1}{\gx+5}{1911}{\gx+16}{1933}{\ta}
  \bx[font=\fsz{4.1}]{p21\n2}{\gx+21}{1911}{\gx+32}{1933}{\tb}
  \bx[font=\fsz{4.1}]{p21\n3}{\gx+5}{1937}{\gx+16}{1959}{\tc}
  \bx[font=\fsz{4.1}]{p21\n4}{\gx+21}{1937}{\gx+32}{1959}{\td}
}
\draw[arr] ([xshift=-3pt]p21zf.south) -- node[lbl, left=0pt, pos=0.55]{sync} ([xshift=15pt]p21zw.north);
\draw[darr] ([xshift=4pt]p21zf.south) -- node[lbl, right=0pt, pos=0.35]{pigeon} ([xshift=-14pt]p21qs.north);
\draw[darr] ([xshift=15pt]p21zf.south) -- node[lbl, above right=0pt, pos=0.45]{pigeon} ([xshift=-4pt]p21hg.north);
\draw[darr] (p21zw.west) -- node[lbl, fill=white]{pigeon} (p21kj.east);

% 二十二、账务-热点账户
\node[bigt, font=\fsz{11.2}] (p22t0) at (258,1837) {单边记账};
\node[bigt, font=\fsz{11.2}] (p22t1) at (260,1866) {\bul{11}内部户，账务不记账，会计补分录};
\node[bigt, font=\fsz{11.2}] (p22t2) at (258,1894) {异步记账};
\node[bigt, font=\fsz{11.2}] (p22t3) at (260,1924) {\bul{11}平台户异步记账，定时汇总记账};
\node[bigt, font=\fsz{11.2}] (p22t4) at (258,1953) {二级子账户};
\draw[fill=notey, draw=lineg, line width=0.4pt] (326,1936) -- (454,1936) -- (463,1945) -- (463,1972) -- (326,1972) -- cycle;
\draw[draw=lineg, line width=0.4pt] (454,1936) -- (454,1945) -- (463,1945);
\node[anchor=north west, font=\fontsize{2.6}{3.3}\selectfont, align=left, inner sep=0] (p22nt) at (327.5,1938) {热点解决方案：\\1、并发度控制 2、汇总明细记账 3、缓冲入账 4、子账户拆分\\5、内存数据库+缓存入账\\6、升级服务硬件,对CPU内存等进行升级\\https://www.cnblogs.com/zyl2016/p/9926567.html};

% 二十三、账务-记账事务切分
\bx[grp, fill=none, rounded corners=3pt]{p23rg}{9}{2002}{125}{2150}{}
\node[lbl, font=\fsz{3}] (p23st) at (28,2006) {start};
\node[initst] (p23s0) at (29,2013) {};
\bx[font=\fsz{3.6}]{p23dj}{14}{2023}{45}{2035}{单记账?}
\bx[font=\fsz{3.6}]{p23yb}{14}{2050}{45}{2062}{异步记账?}
\bx[font=\fsz{3.6}]{p23cr}{56}{2050}{91}{2062}{插入异步记账凭证}
\bx[fill=cyanf, inlbl=记账事务]{p23sw}{14}{2075}{47}{2117}{}
\bx[font=\fsz{3.6}]{p23ye}{22}{2080}{40}{2087}{更新余额}
\bx[font=\fsz{3.6}]{p23ls}{22}{2096}{40}{2104}{插入流水}
\node[endst] (p23ef) at (73,2097) {};
\node[lbl] (p23efl) at (73,2106) {记账失败};
\node[endst] (p23eo) at (29,2134) {};
\node[lbl] (p23eol) at (29,2142) {记账成功};
\node[lbl] (p23jz) at (67,2143) {记账};
\draw[arr] (p23s0) -- (p23dj.north);
\draw[arr] (p23dj.south) -- node[lbl, fill=white]{N} (p23yb.north);
\draw[arr] (p23yb.east) -- (p23cr.west);
\draw[arr] (p23yb.south) -- node[lbl, fill=white]{N} (p23yb.south |- p23sw.north);
\draw[arr] (p23ye.south) -- (p23ls.north);
\draw[arr] (p23sw.east |- p23ef) -- node[lbl, fill=white]{N} (p23ef.west);
\draw[arr] (p23cr.south -| p23ef) -- node[lbl, fill=white]{N} (p23ef.north);
\draw[arr] (p23eo.north |- p23sw.south) -- node[lbl, fill=white]{Y} (p23eo.north);
\draw[arr] (p23dj.east) -- ++(73,0) |- node[lbl, fill=white, pos=0.3]{Y} (p23eo.east);
\draw[arr] (p23cr.east) -- ++(17,0) |- node[lbl, fill=white, pos=0.3]{Y} (p23eo.east);
% 账务出入账
\node[lbl, font=\fsz{3}] (p23st2) at (156,2026) {start};
\node[initst] (p23r0) at (156,2033) {};
\bx[font=\fsz{3.6}]{p23cz}{139}{2052}{173}{2064}{账务出账}
\bx[font=\fsz{3.6}]{p23rz}{139}{2090}{173}{2104}{账务入账}
\bx[font=\fsz{3.6}]{p23bz}{200}{2090}{234}{2104}{异步补账}
\node[endst] (p23e3) at (200,2058) {};
\node[lbl] (p23e3l) at (202,2069) {销账失败};
\node[endst] (p23e4) at (156,2134) {};
\node[lbl] (p23e4l) at (156,2143) {销账成功};
\draw[arr] (p23r0) -- (p23cz.north);
\draw[arr] (p23cz.east) -- node[lbl, fill=white]{出账失败} (p23e3.west);
\draw[arr] (p23cz.south) -- node[lbl, fill=white]{出账成功} (p23rz.north);
\draw[arr] (p23rz.east) -- node[lbl, fill=white]{入账失败} (p23bz.west);
\draw[arr] (p23rz.south) -- node[lbl, fill=white]{入账成功} (p23e4.north);
\draw[arr] (p23bz.south) |- (p23e4.east);
\draw[darr] (p23cz.west) -- (p23cz.west -| p23rg.east);
\draw[darr] (p23rz.west) -- (p23rz.west -| p23rg.east);

% 二十四、性能压测
\node[bigt, font=\fsz{11.2}] (p24t0) at (253,2011) {构建压测模型，模拟线上真实场景};
\node[bigt, font=\fsz{11.2}] (p24t1) at (253,2041) {压测数据进影子库，正常业务无侵入};
\node[bigt, font=\fsz{11.2}] (p24t2) at (253,2070) {单机性能压测，集群链路压测};
\node[bigt, font=\fsz{11.2}] (p24t3) at (253,2098) {识别系统稳定性、容量配比等};

% 二十五、疗效
\node[bigt, font=\fontsize{8.6}{15}\selectfont] (p25t0) at (8,2196.5) {链路DB扩容为2台物理机器，支付稳定 3000QPS。理论\\值可达1w QPS以上};
\node[bigt, font=\fsz{8.6}] (p25t2) at (8,2231) {应用服务器利用率，只需原有机器的1/3};
\node[bigt, font=\fsz{8.6}] (p25t3) at (8,2258) {链路性能};
\bx[fill=chartbg, draw=none, rounded corners=0]{p25ch}{48}{2244}{227}{2330}{}
\node[font=\fsz{3.6}, text=white!85!black] (p25ct) at (140,2252) {核心服务 rt};
\foreach \v/\yy in {100/2258, 80/2269, 60/2280, 40/2290, 20/2300, 0/2310}{
  \draw[white!22!black, line width=0.25pt] (63,\yy) -- (217,\yy);
  \node[anchor=east, font=\fsz{3}, text=white!75!black, inner sep=0.5pt] at (61,\yy) {\v};
}
\draw[gfyel, line width=0.35pt] plot[domain=63:217, samples=90] (\x,{2305.5+0.3*rand});
\draw[gfcyan, line width=0.35pt] plot[domain=63:217, samples=90] (\x,{2306.5+0.3*rand});
\draw[gfgreen, line width=0.35pt] plot[domain=63:217, samples=140] (\x,{2285+4.5*rand});
\draw[gfred, line width=0.35pt] plot[domain=63:217, samples=140] (\x,{2283+1.3*rand});
\draw[gforange, line width=0.35pt] plot[domain=63:217, samples=140] (\x,{2268.5+1.2*rand});
\foreach \sx in {74, 96, 121, 160, 175, 204, 213}
  {\draw[gforange, line width=0.35pt] (\sx,2268) -- (\sx+0.6,2262) -- (\sx+1.2,2268);}
\draw[gfred, line width=0.35pt] (181,2270) -- (181,2284);
\node[font=\fsz{3}, text=white!80!black] (p25lg) at (137,2324) {\textcolor{gfgreen}{—} 支付请求\quad\textcolor{gfyel}{—} 担保收单\quad\textcolor{gfcyan}{—} 收银台订单查询\quad\textcolor{gforange}{—} 支付回调\quad\textcolor{gfred}{—} 收银台渲染};

% 二十六、稳定性提升
\node[bigt, font=\fsz{11.2}] (p26t0) at (252,2186) {监控先行，关键指标管控};
\node[bigt, font=\fsz{11.2}] (p26t1) at (252,2215) {核心链路剥离};
\node[bigt, font=\fsz{11.2}] (p26t2) at (252,2244) {服务依赖治理};
\node[bigt, font=\fsz{11.2}] (p26t3) at (252,2273) {限流、降级};
\bx[fill=uig, draw=none, rounded corners=0, text=white, font=\mono\fsz{4.2}]{p26ui}{335}{2204}{372}{2220}{UI-Admin}
\bx[fill=cfgred, draw=none, rounded corners=0, text=white, font=\fsz{4.5}]{p26pz}{391}{2204}{427}{2220}{配置中心}
\bx[fill=svcg, draw=none, rounded corners=0, text=white, font=\mono\fsz{4.2}]{p26s1}{348}{2261}{384}{2277}{Service 1}
\bx[fill=svcg, draw=none, rounded corners=0, text=white, font=\fsz{4.2}]{p26s2}{391}{2261}{427}{2277}{……}
\bx[fill=svcg, draw=none, rounded corners=0, text=white, font=\mono\fsz{4.2}]{p26sn}{433}{2261}{471}{2277}{Service N}
\draw[arr] (p26ui.east) -- (p26pz.west);
\node[lbl, font=\fsz{4}] (p26c3) at (380,2221) {③};
\node[lbl, font=\fsz{4}] (p26c2) at (351,2228) {②};
\node[lbl, font=\fsz{4}] (p26c4) at (402,2227) {④};
\draw[arr, draw=black!55] (p26pz.south) .. controls (400,2242) and (366,2238) .. (p26s1.north);
\draw[arr, draw=black!55] (p26pz.south) -- (p26s2.north);
\draw[arr, draw=black!55] (p26pz.south) .. controls (418,2242) and (452,2238) .. (p26sn.north);
\foreach \cx in {365, 402, 444} {\node[lbl, font=\fsz{4}, fill=white] at (\cx,2254) {①};}
\node[anchor=north west, font=\fontsize{3.6}{4.5}\selectfont, align=left, inner sep=0] (p26nt) at (339,2286) {核心流程：\\① 启动时获取配置，并启动定时拉取和订阅配置信息\\② 可视化管理端变更配置项\\③ 操作配置中心配置信息\\④ 通知实例当前变更配置，并启动更新内存中配置信息};

% 二十七、核心链路分离
\node[bigt, font=\fsz{8.4}] (p27t0) at (12,2402) {电商平台特性};
\node[bigt, font=\fsz{8.4}] (p27t1) at (12,2422) {剥离核心链路};
\node[bigt, font=\fsz{8.4}] (p27t2) at (12,2441) {核心支付链路};
\node[bigt, font=\fsz{8.4}] (p27t3) at (12,2461) {通用支付服务};
\bx[grp, fill=none, dash pattern=on 0.8pt off 0.8pt]{p27rg}{80}{2377}{208}{2508}{}
\node[lbl, font=\fsz{4.2}] (p27rgl) at (139,2502) {支付平台};
\bx[font=\fsz{4.5}]{p27ec}{86}{2356}{195}{2369}{电商交易}
\bx[inlbl=交易核心]{p27jy}{86}{2385}{160}{2403}{}
\bx[fill=corer, font=\fsz{4}]{p27j1}{88}{2388}{112}{2396}{核心}
\bx[fill=comg, font=\fsz{4}]{p27j2}{123}{2388}{145}{2396}{通用}
\bx[font=\fsz{4.2}]{p27sh}{166}{2385}{195}{2399}{商户通知}
\bx[font=\fsz{4.2}]{p27sy}{86}{2414}{122}{2426}{收银台}
\bx[inlbl=支付核心]{p27zf}{86}{2436}{140}{2454}{}
\bx[fill=corer, font=\fsz{4}]{p27z1}{88}{2439}{112}{2448}{核心}
\bx[fill=comg, font=\fsz{4}]{p27z2}{116}{2439}{137}{2448}{通用}
\bx[inlbl=渠道网关]{p27qd}{149}{2436}{203}{2454}{}
\bx[fill=corer, font=\fsz{4}]{p27q1}{153}{2439}{177}{2448}{核心}
\bx[fill=comg, font=\fsz{4}]{p27q2}{179}{2439}{201}{2448}{通用}
\bx[font=\fsz{4.2}]{p27sf}{213}{2400}{230}{2488}{三方\\支付}
\bx[inlbl=账务系统]{p27zw}{88}{2466}{114}{2499}{}
\bx[fill=corer, font=\fsz{4}]{p27w1}{91}{2468}{112}{2476}{核心}
\bx[fill=comg, font=\fsz{4}]{p27w2}{91}{2480}{112}{2489}{通用}
\bx[font=\fsz{4}]{p27kj}{128}{2466}{139}{2497}{会计\\系统}
\bx[font=\fsz{4}]{p27qs}{157}{2466}{171}{2497}{清算\\系统}
\bx[font=\fsz{4}]{p27hg}{185}{2472}{199}{2497}{合规\\系统}
\draw[arr] ([xshift=-15pt]p27ec.south) -- node[lbl, fill=white]{1} ([xshift=-18pt]p27jy.north);
\draw[arr] ([xshift=-5pt]p27sh.north) -- node[lbl, fill=white]{9} ([xshift=10pt]p27ec.south);
\draw[arr] (p27jy.east |- p27sh.west) -- node[lbl, fill=white]{8} (p27sh.west);
\draw[arr] ([xshift=-12pt]p27jy.south) -- node[lbl, fill=white]{2} ([xshift=4pt]p27sy.north);
\draw[arr] ([xshift=-4pt]p27sy.south) -- node[lbl, fill=white]{3} ([xshift=-13pt]p27zf.north);
\draw[arr] ([xshift=12pt]p27zf.north) -- ++(17,-12) node[lbl, fill=white]{7} -- ([xshift=8pt]p27jy.south);
\draw[biarr] (p27zf.east) -- node[lbl, fill=white]{4} (p27qd.west);
\draw[biarr, dash pattern=on 1.5pt off 1pt] (p27qd.east) -- node[lbl, fill=white]{5} (p27qd.east -| p27sf.west);
\draw[arr] ([xshift=-8pt]p27zf.south) -- node[lbl, fill=white]{6} (p27zw.north);
\draw[darr] (p27zw.east) -- (p27zw.east -| p27kj.west);
\draw[darr] ([xshift=18pt]p27zf.south) -- (p27qs.north);
\draw[darr] ([xshift=24pt]p27zf.south) -- (p27hg.north);

% 二十八、服务依赖
\node[bigt, font=\fsz{8.5}] (p28t0) at (253,2373) {梳理支付平台内强弱依赖，特别针对于核心下单链路};
\node[bigt, font=\fsz{8.5}] (p28t1) at (253,2395) {弱依赖做好降级开关};
\node[bigt, font=\fsz{8.5}] (p28t2) at (253,2417) {强依赖服务做好SLA保障};
\bx[pill]{p28p1}{252}{2426}{286}{2430}{}
\bx[pill]{p28p2}{301}{2426}{337}{2430}{}
\bx[pill]{p28p3}{251}{2444}{267}{2449}{}
\bx[pill]{p28p4}{272}{2444}{287}{2449}{}
\bx[pill]{p28p5}{299}{2444}{315}{2449}{}
\bx[pill]{p28p6}{322}{2444}{342}{2449}{}
\bx[pill]{p28p7}{447}{2444}{465}{2449}{}
\bx[pill, fill=pinkf!80!gray]{p28pk}{393}{2428}{417}{2434}{}
\bx[pill]{p28p8}{394}{2469}{418}{2474}{}
\foreach \i/\cx/\cy in {1/359/2446, 2/390/2446, 3/422/2446, 4/456/2464, 5/406/2487, 6/456/2486}
  {\node[dmd] (p28d\i) at (\cx,\cy) {};}
\draw[fb] (p28p1.south) -- ++(0,6) -| (p28p3.north);
\draw[fb] (p28p1.south) ++(0,6) -| (p28p4.north);
\draw[fb] (p28p2.south) -- ++(0,6) -| (p28p5.north);
\draw[fb] (p28p2.south) ++(0,6) -| (p28p6.north);
\draw[fb, -{Stealth[length=1.5pt]}] (p28p6.east) -- (p28d1.west);
\draw[fb, -{Stealth[length=1.5pt]}] (p28d1.east) -- (p28d2.west);
\draw[fb, -{Stealth[length=1.5pt]}] (p28d2.east) -- (p28d3.west);
\draw[fb, -{Stealth[length=1.5pt]}] (p28d3.east) -- (p28p7.west);
\draw[fb, -{Stealth[length=1.5pt]}] (p28p7.south) -- (p28d4.north);
\draw[fb, -{Stealth[length=1.5pt]}] (p28d4.south) -- (p28d6.north);
\draw[fb, -{Stealth[length=1.5pt]}] (p28d2.south) |- (p28p8.west);
\draw[fb, -{Stealth[length=1.5pt]}] (p28d3.south) -- ++(0,10) -| (p28p8.north);
\draw[fb, -{Stealth[length=1.5pt]}] (p28d4.west) -| (p28p8.east);
\draw[fb, -{Stealth[length=1.5pt]}] (p28p8.south) -- (p28d5.north);
\draw[fb, -{Stealth[length=1.5pt]}] (p28d6.west) -- (p28d6.west -| p28d5.east);
\draw[fr] (p28p6.south) ++(-10,0) -- ++(0,61);
\foreach \yy in {2474, 2486, 2498, 2510}{
  \draw[fr] (332,\yy) -- (362,\yy);
  \foreach \dx in {337, 343, 350} {\fill[flowy!70!orange] (\dx,\yy) circle (1.1pt);}
}
\draw[fr] (362,2474) -| (p28d1.south);
\draw[fr] (362,2498) -| (p28d5.south);
\draw[fr] (p28pk.east) -| (473,2500) -- (p28d6.east);
\draw[fr] (p28d5.west) -- ++(-20,0);
\foreach \cx/\cy in {293/2428, 417/2428, 360/2440, 392/2440, 423/2440, 466/2444, 395/2469, 265/2459, 368/2507}
  {\node[gdot] at (\cx,\cy) {};}
\bx[draw=black!35, line width=0.3pt, rounded corners=0]{p28lg}{259}{2471}{313}{2508}{}
\node[anchor=north west, font=\fsz{2.4}, inner sep=0.5pt] (p28lt) at (p28lg.north west) {Legend};
\draw[fb, -{Stealth[length=1.2pt]}] (264,2480) -- (304,2480);
\draw[fr, -{Stealth[length=1.2pt]}] (264,2486) -- (304,2486);
\foreach \dx in {266, 271, 276} {\fill[flowy!70!orange] (\dx,2495) circle (1pt);}
\bx[pill]{p28lp}{265}{2502}{300}{2505}{}
\node[font=\fsz{4.5}, text=black!25] (p28ng) at (462,2504) {nginx};
\end{tikzpicture}
\end{document}
